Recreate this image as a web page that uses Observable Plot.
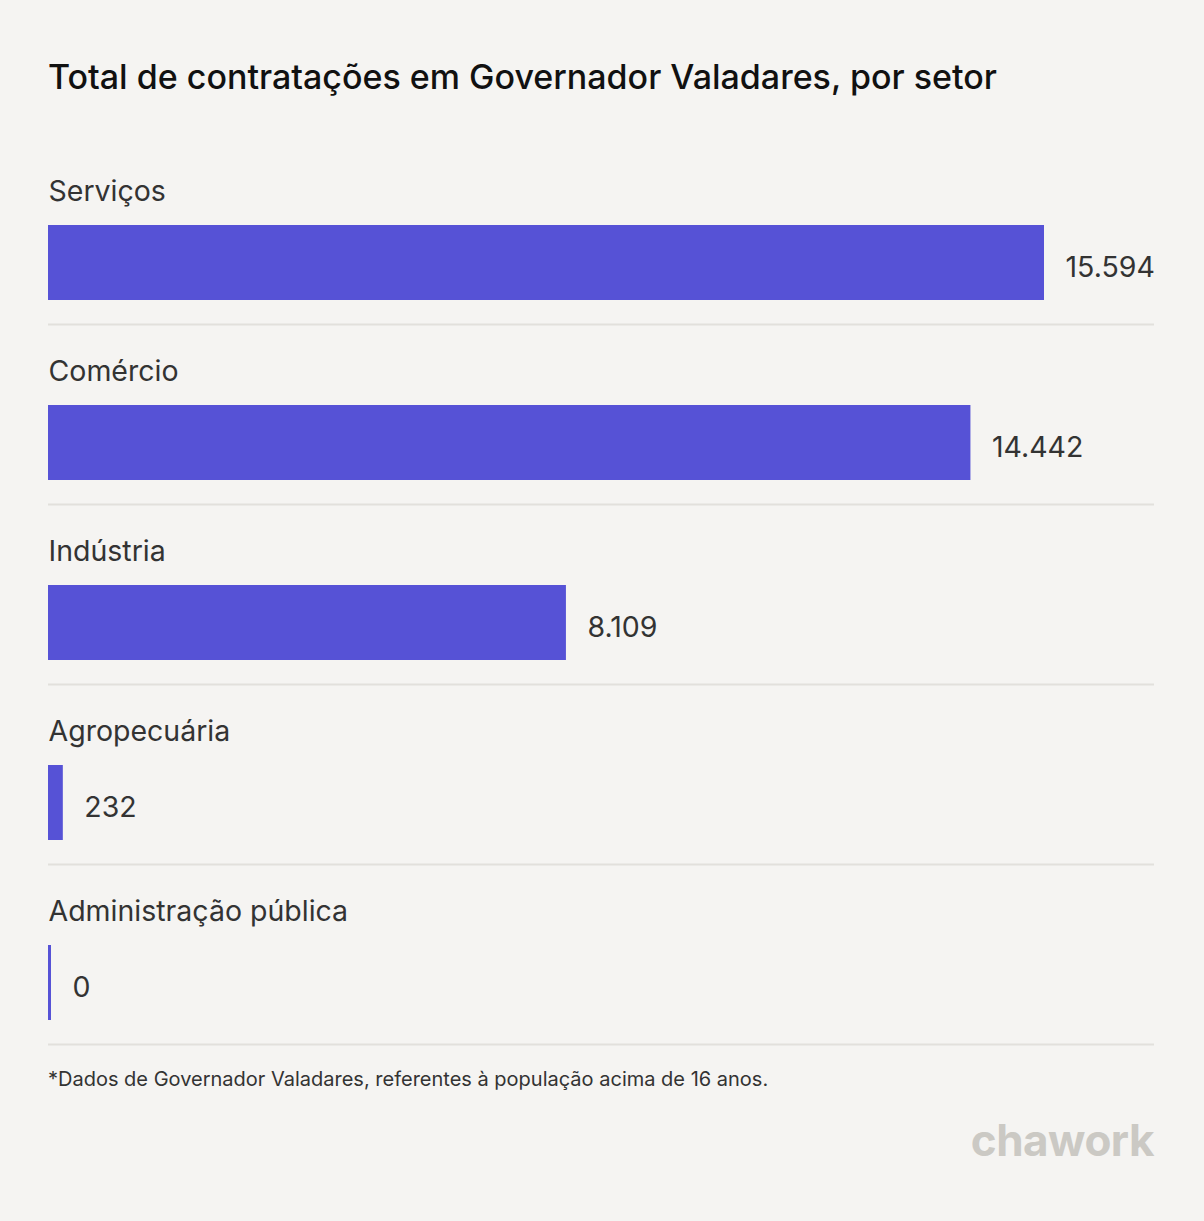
<!DOCTYPE html>
<html>
<head>
<meta charset="utf-8">
<script src="https://cdn.jsdelivr.net/npm/d3@7"></script>
<script src="https://cdn.jsdelivr.net/npm/@observablehq/plot@0.6"></script>
<style>
  html, body { margin: 0; padding: 0; background: #f5f4f2; }
  #wrap { position: relative; width: 1204px; height: 1221px; background: #f5f4f2; font-family: Inter, "Noto Sans", sans-serif; overflow: hidden; }
  #title { position: absolute; left: 48px; top: 60px; font-size: 34px; line-height: 34px; font-weight: 500; color: #111; white-space: nowrap; }
  #chart { position: absolute; left: 0; top: 130px; }
  #note { position: absolute; left: 48px; top: 1069px; font-size: 20px; line-height: 20px; color: #333; white-space: nowrap; }
  #logo { position: absolute; right: 50px; top: 1115px; font-size: 44px; line-height: 50px; font-weight: 700; color: #cbc9c4; letter-spacing: -0.5px; }
</style>
</head>
<body>
<div id="wrap">
  <div id="title">Total de contratações em Governador Valadares, por setor</div>
  <div id="chart"></div>
  <div id="note">*Dados de Governador Valadares, referentes à população acima de 16 anos.</div>
  <div id="logo">chawork</div>
</div>
<script>
const categories = ["Serviços", "Comércio", "Indústria", "Agropecuária", "Administração pública"];
const values = [15594, 14442, 8109, 232, 0];
const valueLabels = ["15.594", "14.442", "8.109", "232", "0"];

const data = categories.map((c, i) => ({cat: c, value: values[i], label: valueLabels[i]}));

const barColor = "#5652d6";
const textColor = "#333333";

const chart = Plot.plot({
  width: 1204,
  height: 930,
  marginLeft: 48,
  marginRight: 50,
  marginTop: 14,
  marginBottom: 16,
  style: {background: "transparent", fontFamily: "Inter, 'Noto Sans', sans-serif"},
  x: {domain: [0, d3.max(values)], range: [48, 1044], axis: null},
  y: {domain: categories, range: [14, 914], padding: 0, axis: null},
  marks: [
    Plot.ruleY(data, {y: "cat", dy: 90, stroke: "#e2e0dc", strokeWidth: 2}),
    Plot.barX(data.filter(d => d.value > 0), {x1: 0, x2: "value", y: "cat", fill: barColor, insetTop: 81, insetBottom: 24}),
    Plot.barX(data.filter(d => d.value === 0), {x1: 0, x2: "value", y: "cat", fill: barColor, insetTop: 81, insetBottom: 24, insetRight: -3}),
    Plot.text(data, {x: 0, y: "cat", text: "cat", textAnchor: "start", dy: -43, fontSize: 28.5, fill: textColor}),
    Plot.text(data.filter(d => d.value > 0), {x: "value", y: "cat", text: "label", textAnchor: "start", dx: 21, dy: 33, fontSize: 28.5, fill: textColor}),
    Plot.text(data.filter(d => d.value === 0), {x: "value", y: "cat", text: "label", textAnchor: "start", dx: 24, dy: 33, fontSize: 28.5, fill: textColor})
  ]
});
document.getElementById("chart").appendChild(chart);
</script>
</body>
</html>
